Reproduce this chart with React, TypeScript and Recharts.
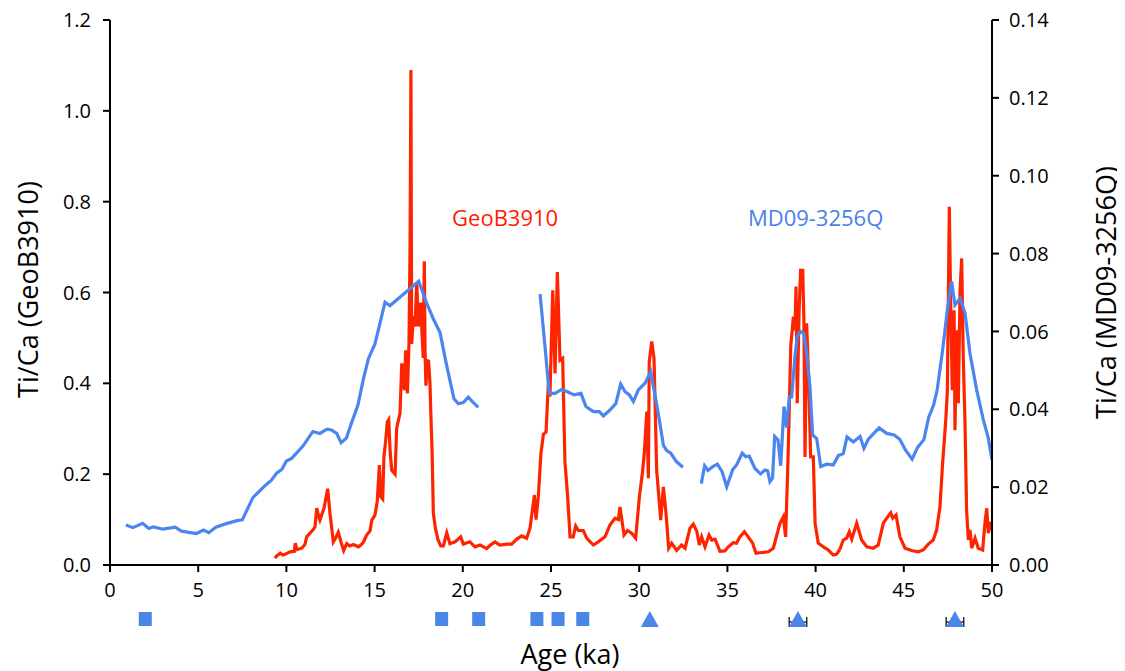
import React from 'react';
import { LineChart, Line, XAxis, YAxis, ReferenceDot } from 'recharts';

// GeoB3910 Ti/Ca (left axis)
const geoAges = [
  9.35, 9.45, 9.65, 9.8, 9.95, 10.2, 10.45, 10.5, 10.6, 10.87, 11.05, 11.15, 11.34, 11.5, 11.62, 11.72, 11.82, 11.9,
  12.13, 12.34, 12.47, 12.66, 12.8, 12.94, 13.1, 13.25, 13.42, 13.6, 13.79, 14.08, 14.25, 14.36, 14.55, 14.74, 14.84,
  15.02, 15.15, 15.27, 15.35, 15.46, 15.53, 15.62, 15.72, 15.8, 15.88, 15.97, 16.16, 16.25, 16.31, 16.44, 16.54, 16.62,
  16.69, 16.76, 16.86, 16.95, 17.01, 17.06, 17.1, 17.2, 17.29, 17.39, 17.48, 17.56, 17.61, 17.7, 17.76, 17.82, 17.86,
  17.91, 17.98, 18.06, 18.14, 18.18, 18.26, 18.33, 18.45, 18.6, 18.75, 18.9, 19.09, 19.27, 19.56, 19.88, 20.03, 20.4,
  20.69, 20.98, 21.35, 21.6, 21.83, 22.1, 22.5, 22.77, 23.06, 23.34, 23.62, 23.81, 24.06, 24.15, 24.28, 24.43, 24.57,
  24.72, 24.85, 24.94, 25.1, 25.23, 25.36, 25.51, 25.66, 25.79, 25.93, 26.08, 26.26, 26.4, 26.55, 26.83, 27.02, 27.4,
  27.68, 28.06, 28.34, 28.63, 28.82, 28.91, 29.14, 29.33, 29.57, 29.8, 30.01, 30.18, 30.29, 30.43, 30.52, 30.57, 30.71,
  30.84, 30.99, 31.22, 31.37, 31.52, 31.67, 31.84, 32.12, 32.4, 32.6, 32.88, 33.07, 33.26, 33.41, 33.54, 33.73, 33.96,
  34.11, 34.3, 34.58, 34.86, 35.05, 35.33, 35.52, 35.71, 35.96, 36.18, 36.43, 36.62, 36.85, 37.32, 37.6, 37.83, 37.98,
  38.17, 38.3, 38.4, 38.45, 38.59, 38.74, 38.83, 38.89, 38.96, 39.06, 39.15, 39.27, 39.34, 39.4, 39.49, 39.59, 39.72,
  39.87, 39.97, 40.15, 40.44, 40.72, 41.0, 41.2, 41.38, 41.57, 41.76, 41.91, 42.05, 42.33, 42.61, 42.9, 43.27, 43.55,
  43.84, 44.03, 44.26, 44.37, 44.56, 44.78, 45.07, 45.44, 45.82, 46.1, 46.39, 46.67, 46.86, 47.05, 47.2, 47.29, 47.39,
  47.47, 47.58, 47.66, 47.75, 47.85, 47.9, 48.0, 48.09, 48.19, 48.28, 48.37, 48.47, 48.56, 48.66, 48.75, 48.85, 49.04,
  49.22, 49.47, 49.6, 49.7, 49.79, 49.93, 50.0,
];
const geoTiCa = [
  0.015, 0.02, 0.026, 0.022, 0.024, 0.029, 0.03, 0.048, 0.034, 0.037, 0.045, 0.062, 0.07, 0.077, 0.084, 0.125, 0.108, 0.099,
  0.125, 0.168, 0.114, 0.051, 0.06, 0.072, 0.05, 0.032, 0.047, 0.042, 0.045, 0.04, 0.045, 0.05, 0.066, 0.075, 0.099,
  0.11, 0.14, 0.22, 0.15, 0.145, 0.24, 0.27, 0.315, 0.32, 0.25, 0.209, 0.2, 0.3, 0.312, 0.334, 0.444, 0.41,
  0.385, 0.473, 0.378, 0.49, 0.7, 1.09, 0.487, 0.548, 0.525, 0.623, 0.525, 0.56, 0.578, 0.5, 0.456, 0.669, 0.47,
  0.395, 0.45, 0.449, 0.4, 0.342, 0.25, 0.114, 0.08, 0.055, 0.042, 0.042, 0.071, 0.047, 0.051, 0.062, 0.046, 0.051,
  0.04, 0.044, 0.036, 0.045, 0.051, 0.044, 0.046, 0.046, 0.057, 0.064, 0.059, 0.081, 0.154, 0.1, 0.15, 0.246, 0.288,
  0.293, 0.4, 0.371, 0.605, 0.422, 0.645, 0.451, 0.455, 0.227, 0.158, 0.062, 0.062, 0.086, 0.076, 0.076, 0.059, 0.044,
  0.051, 0.062, 0.088, 0.103, 0.1, 0.128, 0.066, 0.076, 0.07, 0.059, 0.15, 0.202, 0.246, 0.338, 0.191, 0.448, 0.492,
  0.455, 0.209, 0.099, 0.172, 0.114, 0.037, 0.048, 0.032, 0.044, 0.037, 0.081, 0.09, 0.075, 0.044, 0.062, 0.04, 0.066,
  0.055, 0.057, 0.03, 0.031, 0.04, 0.049, 0.048, 0.062, 0.073, 0.062, 0.048, 0.026, 0.027, 0.029, 0.037, 0.07, 0.092,
  0.106, 0.062, 0.187, 0.253, 0.481, 0.547, 0.517, 0.613, 0.356, 0.554, 0.649, 0.649, 0.532, 0.238, 0.532, 0.429, 0.238,
  0.238, 0.092, 0.048, 0.04, 0.033, 0.022, 0.024, 0.035, 0.055, 0.059, 0.073, 0.057, 0.092, 0.055, 0.04, 0.037, 0.044,
  0.092, 0.103, 0.115, 0.103, 0.11, 0.062, 0.037, 0.032, 0.029, 0.033, 0.046, 0.055, 0.077, 0.128, 0.224, 0.271, 0.326,
  0.385, 0.789, 0.569, 0.385, 0.561, 0.297, 0.517, 0.356, 0.605, 0.675, 0.459, 0.312, 0.121, 0.055, 0.077, 0.037, 0.059,
  0.037, 0.033, 0.092, 0.125, 0.07, 0.095, 0.077,
];

// MD09-3256Q Ti/Ca (right axis); null = gap in record
const mdAges = [
  0.9, 1.3, 1.85, 2.2, 2.45, 3.0, 3.7, 4.05, 4.9, 5.3, 5.6, 6.0, 6.5, 7.2, 7.5, 8.1, 8.7, 9.15, 9.45, 9.75, 10.0, 10.3,
  10.95, 11.5, 11.9, 12.3, 12.55, 12.85, 13.1, 13.4, 13.7, 14.05, 14.36, 14.65, 15.02, 15.31, 15.59, 15.87, 17.5, 17.95,
  18.33, 18.71, 19.05, 19.5, 19.75, 20.03, 20.31, 20.6, 20.88, 22.5, 24.38, 24.66, 24.9, 25.23, 25.6, 25.93, 26.3, 26.7,
  26.98, 27.4, 27.74, 27.97, 28.34, 28.68, 28.95, 29.2, 29.44, 29.67, 29.95, 30.33, 30.65, 30.84, 31.08, 31.37, 31.56,
  31.79, 32.12, 32.48, 33.0, 33.52, 33.71, 33.9, 34.15, 34.43, 34.7, 34.96, 35.3, 35.52, 35.84, 36.05, 36.24, 36.56,
  36.88, 37.13, 37.28, 37.41, 37.56, 37.68, 37.87, 38.02, 38.21, 38.36, 38.51, 38.64, 38.83, 38.96, 39.15, 39.34, 39.49,
  39.68, 39.83, 40.06, 40.29, 40.63, 41.0, 41.29, 41.57, 41.78, 42.14, 42.52, 42.74, 42.99, 43.3, 43.6, 44.03, 44.45,
  44.77, 45.1, 45.47, 45.78, 46.14, 46.41, 46.69, 46.9, 47.2, 47.47, 47.71, 47.9, 48.19, 48.47, 48.75, 49.13, 49.51,
  49.79, 50.0,
];
const mdTiCa: (number | null)[] = [
  0.0103, 0.0096, 0.0107, 0.0094, 0.0098, 0.0092, 0.0097, 0.0087, 0.0081, 0.009, 0.0083, 0.0097, 0.0105, 0.0114, 0.0116,
  0.0173, 0.02, 0.0218, 0.0236, 0.0246, 0.0267, 0.0274, 0.0306, 0.0343, 0.0338, 0.0349, 0.0347, 0.0338, 0.0314, 0.0326,
  0.0366, 0.041, 0.0477, 0.053, 0.0568, 0.0622, 0.0675, 0.0666, 0.0729, 0.0673, 0.0632, 0.0597, 0.052, 0.0427, 0.0414,
  0.0417, 0.0431, 0.0417, 0.0405, null, 0.0696, 0.0561, 0.0441, 0.0441, 0.0451, 0.0445, 0.0437, 0.0441, 0.0407, 0.0394,
  0.0394, 0.0383, 0.0398, 0.0415, 0.0465, 0.0445, 0.0437, 0.042, 0.045, 0.0467, 0.0497, 0.045, 0.039, 0.0308, 0.0294,
  0.0287, 0.0265, 0.0251, null, 0.0209, 0.0255, 0.0243, 0.0252, 0.0259, 0.024, 0.0201, 0.0245, 0.0257, 0.0287, 0.0278,
  0.028, 0.0248, 0.0234, 0.0244, 0.0242, 0.0214, 0.0223, 0.033, 0.0321, 0.0255, 0.0407, 0.0353, 0.0432, 0.0432, 0.0535,
  0.0587, 0.06, 0.0595, 0.0544, 0.0458, 0.0334, 0.0325, 0.0253, 0.0259, 0.0257, 0.0281, 0.0286, 0.0329, 0.0316, 0.033,
  0.03, 0.0323, 0.0338, 0.0352, 0.0338, 0.0334, 0.0323, 0.0295, 0.0272, 0.0302, 0.0322, 0.0379, 0.0411, 0.0452, 0.0552,
  0.0655, 0.0728, 0.0668, 0.0685, 0.0647, 0.0544, 0.045, 0.0373, 0.0326, 0.027,
];

// Age control points shown below the axis
const datedAges = [2.0, 18.8, 20.9, 24.2, 25.4, 26.8, 30.6, 39.0, 47.9];
const datedKinds = ['square', 'square', 'square', 'square', 'square', 'square', 'triangle', 'triangle', 'triangle'];
const datedErrors = [0, 0, 0, 0, 0, 0, 0.1, 0.5, 0.5];

const ageTicks = [0, 5, 10, 15, 20, 25, 30, 35, 40, 45, 50];
const leftTicks = [0, 0.2, 0.4, 0.6, 0.8, 1.0, 1.2];
const rightTicks = [0, 0.02, 0.04, 0.06, 0.08, 0.1, 0.12, 0.14];

const geoData = geoAges.map((a, i) => ({ age: a, geo: geoTiCa[i] }));
const mdData = mdAges.map((a, i) => ({ age: a, md: mdTiCa[i] }));
const datedData = datedAges.map((a) => ({ age: a, base: 0 }));

const RED = '#ff2400';
const BLUE = '#4a85f0';
const MARK = '#4a86e8';
const FONT = '"Open Sans", sans-serif';
const AGE_MAX = 50;

const MarkerTick = (props: any) => {
  const { x, y, payload, width } = props;
  const idx = datedAges.indexOf(payload.value);
  if (idx < 0) return null;
  const cy = y + 6;
  const pxPerKa = (width || 0) / AGE_MAX;
  if (datedKinds[idx] === 'square') {
    return <rect x={x - 6.5} y={cy - 7} width={13} height={14} fill={MARK} />;
  }
  const half = datedErrors[idx] * pxPerKa;
  const ey = cy + 3;
  return (
    <g>
      <line x1={x - half} x2={x + half} y1={ey} y2={ey} stroke="#000" strokeWidth={1.2} />
      <line x1={x - half} x2={x - half} y1={ey - 5} y2={ey + 5} stroke="#000" strokeWidth={1.2} />
      <line x1={x + half} x2={x + half} y1={ey - 5} y2={ey + 5} stroke="#000" strokeWidth={1.2} />
      <polygon points={`${x},${cy - 8} ${x - 9},${cy + 8} ${x + 9},${cy + 8}`} fill={MARK} />
    </g>
  );
};

const leftTitle = (p: any) => {
  const vb = p.viewBox || { x: 0, y: 20, width: 110, height: 545 };
  const cx = vb.x + 27;
  const cy = vb.y + vb.height / 2 - 3;
  return (
    <text x={cx} y={cy} transform={`rotate(-90, ${cx}, ${cy})`} textAnchor="middle" dominantBaseline="central"
      fontSize={27} fill="#000" fontFamily={FONT}>Ti/Ca (GeoB3910)</text>
  );
};

const rightTitle = (p: any) => {
  const vb = p.viewBox || { x: 992, y: 20, width: 133, height: 545 };
  const cx = vb.x + 113;
  const cy = vb.y + vb.height / 2;
  return (
    <text x={cx} y={cy} transform={`rotate(-90, ${cx}, ${cy})`} textAnchor="middle" dominantBaseline="central"
      fontSize={27} fill="#000" fontFamily={FONT}>Ti/Ca (MD09-3256Q)</text>
  );
};

const bottomTitle = (p: any) => {
  const vb = p.viewBox || { x: 110, y: 605, width: 882, height: 66 };
  const cx = vb.x + vb.width / 2 + 19;
  const cy = vb.y + 48;
  return (
    <text x={cx} y={cy} textAnchor="middle" dominantBaseline="central" fontSize={27} fill="#000" fontFamily={FONT}>
      Age (ka)
    </text>
  );
};

const axisStroke = { stroke: '#000', strokeWidth: 2 };

export default function App() {
  return (
    <div style={{ fontFamily: FONT, marginTop: -8, marginLeft: -8, width: 1125, height: 671 }}>
      <LineChart width={1125} height={671} margin={{ top: 20, right: 0, bottom: 0, left: 0 }}>
        <XAxis
          dataKey="age"
          type="number"
          domain={[0, AGE_MAX]}
          ticks={ageTicks}
          allowDataOverflow
          height={40}
          axisLine={axisStroke}
          tickLine={axisStroke}
          tickSize={7}
          tickMargin={11}
          tick={{ fill: '#000', fontSize: 20, fontFamily: FONT }}
        />
        <XAxis
          xAxisId="dated"
          dataKey="age"
          type="number"
          domain={[0, AGE_MAX]}
          ticks={datedAges}
          allowDataOverflow
          height={66}
          axisLine={false}
          tickLine={false}
          tick={<MarkerTick />}
          interval={0}
          label={{ content: bottomTitle }}
        />
        <YAxis
          yAxisId="left"
          type="number"
          domain={[0, 1.2]}
          ticks={leftTicks}
          allowDataOverflow
          width={110}
          axisLine={axisStroke}
          tickLine={axisStroke}
          tickSize={7}
          tickMargin={12}
          tickFormatter={(v: number) => v.toFixed(1)}
          tick={{ fill: '#000', fontSize: 20, fontFamily: FONT }}
          label={{ content: leftTitle }}
        />
        <YAxis
          yAxisId="right"
          orientation="right"
          type="number"
          domain={[0, 0.14]}
          ticks={rightTicks}
          allowDataOverflow
          width={133}
          axisLine={axisStroke}
          tickLine={axisStroke}
          tickSize={7}
          tickMargin={10}
          tickFormatter={(v: number) => v.toFixed(2)}
          tick={{ fill: '#000', fontSize: 20, fontFamily: FONT }}
          label={{ content: rightTitle }}
        />
        <Line
          xAxisId="dated"
          yAxisId="left"
          data={datedData}
          dataKey="base"
          stroke="none"
          dot={false}
          activeDot={false}
          legendType="none"
          isAnimationActive={false}
        />
        <Line
          yAxisId="left"
          data={geoData}
          dataKey="geo"
          type="linear"
          stroke={RED}
          strokeWidth={3.2}
          dot={false}
          activeDot={false}
          isAnimationActive={false}
        />
        <Line
          yAxisId="right"
          data={mdData}
          dataKey="md"
          type="linear"
          stroke={BLUE}
          strokeWidth={3.2}
          dot={false}
          activeDot={false}
          connectNulls={false}
          isAnimationActive={false}
        />
        <ReferenceDot yAxisId="left" x={22.4} y={0.764} r={0} fill="none" stroke="none"
          label={{ value: 'GeoB3910', position: 'center', fill: '#ff1a00', fontSize: 22, fontFamily: FONT }} />
        <ReferenceDot yAxisId="left" x={40.0} y={0.764} r={0} fill="none" stroke="none"
          label={{ value: 'MD09-3256Q', position: 'center', fill: '#4a7fee', fontSize: 22, fontFamily: FONT }} />
      </LineChart>
    </div>
  );
}
